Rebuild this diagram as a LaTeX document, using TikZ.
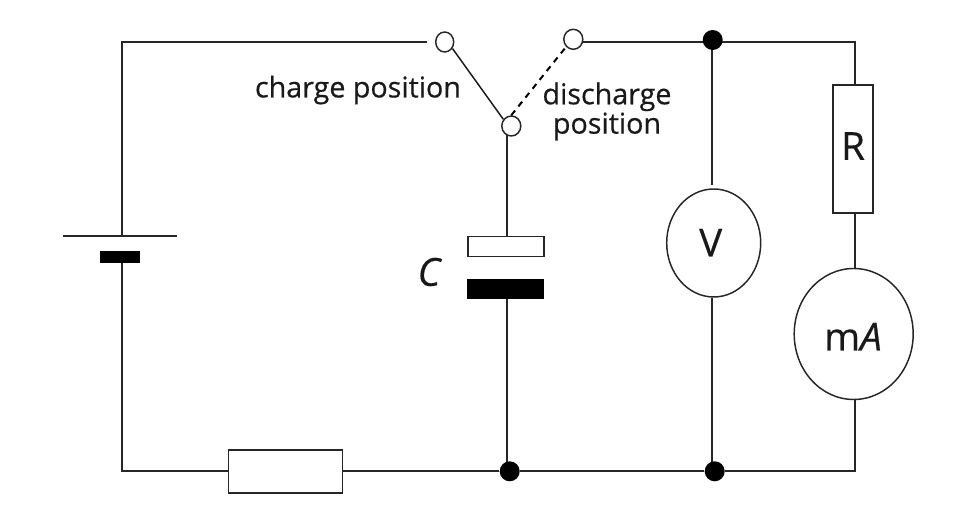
\documentclass[tikz,border=0pt]{standalone}
\usepackage{fontspec}
\setmainfont{Open Sans}[FakeBold=0.5,AutoFakeBold=0.5]
\usetikzlibrary{shapes.geometric,backgrounds}
\tikzset{
  wire/.style={line width=1.35pt,draw=black!85},
  swsolid/.style={line width=1.1pt,draw=black!90},
  swdash/.style={line width=1.5pt,draw=black,dash pattern=on 4.5pt off 4pt},
  contact/.style={ellipse,draw=black!85,line width=1.1pt,fill=white,inner sep=0pt,minimum width=#1*0.75pt,minimum height=20*0.75pt},
  junction/.style={circle,fill=black,inner sep=0pt,minimum size=20*0.75pt},
  meter/.style={ellipse,draw=black!85,line width=1.1pt,fill=white,inner sep=0pt},
  whitebox/.style={rectangle,draw=black!85,line width=1.35pt,fill=white,inner sep=0pt},
  blackbar/.style={rectangle,fill=black,inner sep=0pt},
  lbl/.style={text=black!90,inner sep=0pt,font=\fontsize{21.5}{22}\selectfont\bfseries,align=center},
  bigl/.style={text=black!90,inner sep=0pt,font=\fontsize{29}{30}\selectfont\bfseries}
}
\begin{document}
\begin{tikzpicture}[x=0.75pt,y=-0.75pt]
\useasboundingbox (0,0) rectangle (958,530);
% corners
\coordinate (tl) at (121.7,42.3);
\coordinate (bl) at (121.7,471.3);
\coordinate (tr) at (855,42.3);
\coordinate (br) at (855,471.3);
\coordinate (vw) at (711.7,42.3);
\coordinate (cw) at (506.7,471.3);
% parts
\node[contact=18] (c1) at (444.7,42) {};
\node[contact=19] (c2) at (573.3,39.3) {};
\node[contact=19] (c3) at (511.3,126) {};
\node[junction] (tj) at (712.7,40) {};
\node[junction] (bj) at (509.7,471.3) {};
\node[junction] (brj) at (714.7,471.3) {};
\node[rectangle,fill=black!85,inner sep=0pt,minimum width=114*0.75pt,minimum height=2*0.75pt] (batp) at (120,236.3) {};
\node[blackbar,minimum width=40*0.75pt,minimum height=11.5*0.75pt] (batn) at (120,257) {};
\node[whitebox,minimum width=114*0.75pt,minimum height=43*0.75pt] (res) at (285.5,471.3) {};
\node[whitebox,minimum width=76*0.75pt,minimum height=20*0.75pt] (ctop) at (505.8,246.6) {};
\node[blackbar,minimum width=77*0.75pt,minimum height=20.6*0.75pt] (cbot) at (505.8,289) {};
\node[whitebox,minimum width=39.4*0.75pt,minimum height=128.3*0.75pt] (rr) at (853,149.2) {};
\node[meter,minimum width=94*0.75pt,minimum height=108*0.75pt] (vm) at (713.7,243) {};
\node[meter,minimum width=119*0.75pt,minimum height=131*0.75pt] (ma) at (853.7,334) {};
% labels
\node[lbl] (lcharge) at (358,90) {charge position};
\node[lbl] (ldis) at (607,111.5) {discharge\\position};
\node[bigl] (lc) at (429,272) {\itshape C};
\node[bigl] (lr) at (853,146) {R};
\node[bigl] (lv) at (710.7,242.7) {V};
\node[bigl] (lma) at (853,336.7) {m\itshape A};
% wires
\begin{scope}[on background layer]
  \draw[wire,shorten >=6pt] (batp.center -| tl) -- (tl) -- (c1.west |- tl);
  \draw[wire] (batn.center -| bl) -- (bl) -- (res.center);
  \draw[wire] (res.center) -- (bj) -- (brj) -- (br) -- (br |- ma);
  \draw[wire] (tr |- ma) -- (tr |- rr);
  \draw[wire] (rr.center -| tr) -- (tr) -- (c2 |- tr);
  \draw[wire] (vw |- brj) -- (vw |- vm.south);
  \draw[wire,shorten >=2.2pt] (vw) -- (vw |- vm.north);
  \draw[wire] (cw |- c3) -- (cw |- ctop);
  \draw[wire] (cw |- cbot) -- (cw);
\end{scope}
% switch
\draw[swsolid] (c1.-40) -- (c3.140);
\draw[swdash] (c3.north) -- (c2.south west);
\end{tikzpicture}
\end{document}
